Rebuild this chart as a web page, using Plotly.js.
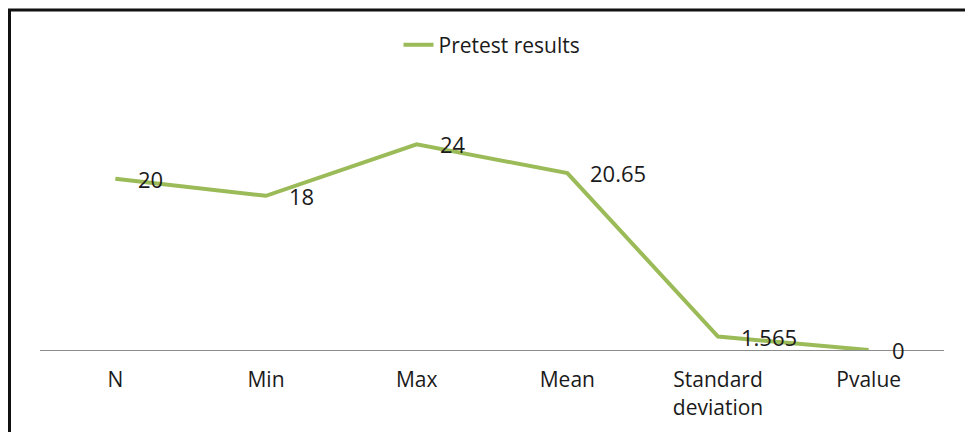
<!DOCTYPE html>
<html>
<head>
<meta charset="utf-8">
<script src="https://cdn.plot.ly/plotly-3.0.1.min.js"></script>
<style>
html,body{margin:0;padding:0;background:#fff;}
#chart{width:965px;height:432px;}
</style>
</head>
<body>
<div id="chart"></div>
<script>
var categories = ["N", "Min", "Max", "Mean", "Standard<br>deviation", "Pvalue"];
var pretestValues = [20, 18, 24, 20.65, 1.565, 0];
var valueLabels = ["20", "18", "24", "20.65", "1.565", "0"];
var seriesName = "Pretest results";

var trace = {
  x: categories,
  y: pretestValues,
  type: "scatter",
  mode: "lines",
  name: seriesName,
  line: {color: "#9BBB59", width: 4},
  hoverinfo: "x+y"
};

var annotations = categories.map(function (c, i) {
  return {
    x: c, y: pretestValues[i], xref: "x", yref: "y",
    text: valueLabels[i], showarrow: false,
    xanchor: "left", yanchor: "middle", xshift: 21,
    font: {family: "Open Sans, sans-serif", size: 22, color: "#1a1a1a"}
  };
});

var M = {l: 40, r: 21, t: 93, b: 82};
var plotW = 965 - M.l - M.r, plotH = 432 - M.t - M.b;
function px2x(p) { return (p - M.l) / plotW; }
function py2y(p) { return (432 - M.b - p) / plotH; }

var shapes = [
  {type: "line", xref: "paper", yref: "paper",
   x0: px2x(9.5), x1: px2x(9.5), y0: py2y(10), y1: py2y(440),
   line: {color: "#111", width: 3}},
  {type: "line", xref: "paper", yref: "paper",
   x0: px2x(8), x1: px2x(970), y0: py2y(10), y1: py2y(10),
   line: {color: "#111", width: 3}}
];

var layout = {
  width: 965, height: 432,
  margin: M,
  paper_bgcolor: "#ffffff",
  plot_bgcolor: "#ffffff",
  showlegend: true,
  legend: {
    orientation: "h", x: 0.5, xanchor: "center",
    y: py2y(45), yanchor: "middle",
    font: {family: "Open Sans, sans-serif", size: 21, color: "#1a1a1a"}
  },
  xaxis: {
    type: "category",
    range: [-0.5, categories.length - 0.5],
    showline: true, linecolor: "#8c8c8c", linewidth: 1,
    showgrid: false, zeroline: false, ticks: "",
    ticklabelstandoff: 11,
    tickfont: {family: "Open Sans, sans-serif", size: 21, color: "#1a1a1a"},
    fixedrange: true
  },
  yaxis: {
    range: [0, 30], visible: false, showgrid: false, zeroline: false,
    fixedrange: true
  },
  annotations: annotations,
  shapes: shapes
};

Plotly.newPlot("chart", [trace], layout, {displayModeBar: false, staticPlot: true});
</script>
</body>
</html>
